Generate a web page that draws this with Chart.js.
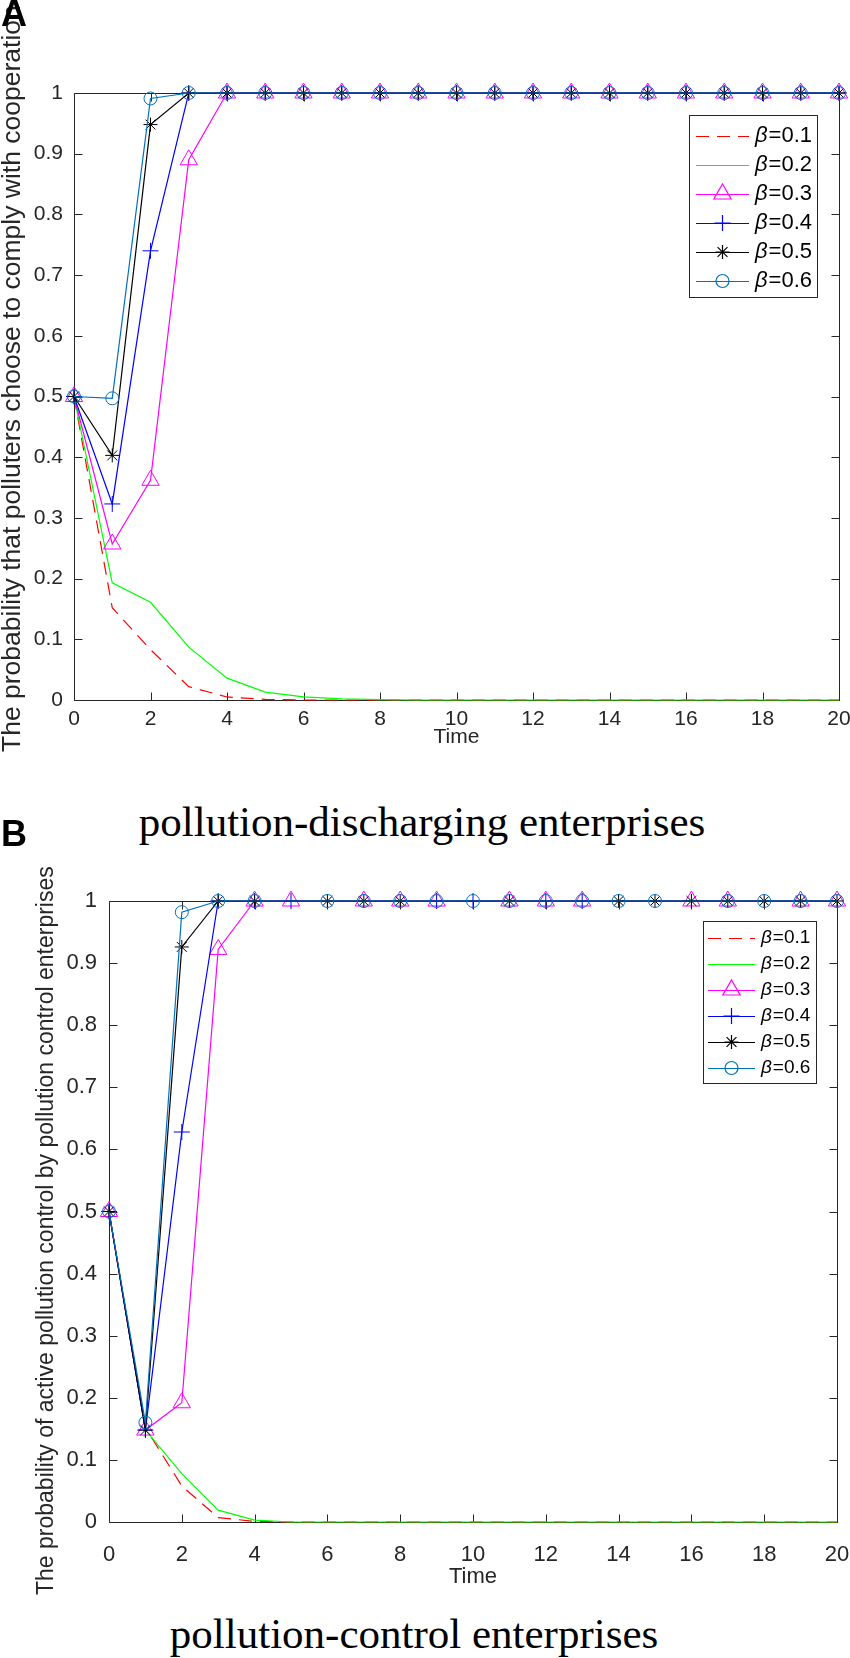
<!DOCTYPE html>
<html>
<head>
<meta charset="utf-8">
<script src="https://cdn.jsdelivr.net/npm/chart.js@4.4.1/dist/chart.umd.min.js"></script>
<style>
  body { margin: 0; background: #fff; width: 850px; height: 1658px; position: relative; overflow: hidden; }
  canvas { position: absolute; left: 0; }
  .lab { position: absolute; left: 1px; font: bold 36px "Liberation Sans", Arial, sans-serif; color: #000; line-height: 36px; }
  .ttl { position: absolute; transform: translateX(-50%); font: 43px/43px "Liberation Serif", "Times New Roman", serif; color: #000; white-space: nowrap; }
</style>
</head>
<body>
<canvas id="chartA" width="850" height="770" style="top:0"></canvas>
<canvas id="chartB" width="850" height="755" style="top:845px"></canvas>
<div class="lab" style="top:-4px">A</div>
<div class="lab" style="top:816px">B</div>
<div class="ttl" style="top:800px;left:422px">pollution-discharging enterprises</div>
<div class="ttl" style="top:1612px;left:414px">pollution-control enterprises</div>
<script>
// time steps and tick labels
var times = [0,1,2,3,4,5,6,7,8,9,10,11,12,13,14,15,16,17,18,19,20];
var xTickVals = [0,2,4,6,8,10,12,14,16,18,20];
var xTickLabels = ['0','2','4','6','8','10','12','14','16','18','20'];
var yTickVals = [0,0.1,0.2,0.3,0.4,0.5,0.6,0.7,0.8,0.9,1];
var yTickLabels = ['0','0.1','0.2','0.3','0.4','0.5','0.6','0.7','0.8','0.9','1'];
var betas = ['0.1','0.2','0.3','0.4','0.5','0.6'];

// A: polluters complying with cooperation
var a01 = [0.5,0.152,0.083,0.022,0.005,0.001,0,0,0,0,0,0,0,0,0,0,0,0,0,0,0];
var a02 = [0.5,0.193,0.161,0.087,0.036,0.013,0.005,0.002,0.0005,0,0,0,0,0,0,0,0,0,0,0,0];
var a03 = [0.5,0.257,0.362,0.89,1,1,1,1,1,1,1,1,1,1,1,1,1,1,1,1,1];
var a04 = [0.5,0.323,0.74,1,1,1,1,1,1,1,1,1,1,1,1,1,1,1,1,1,1];
var a05 = [0.5,0.403,0.948,1,1,1,1,1,1,1,1,1,1,1,1,1,1,1,1,1,1];
var a06 = [0.5,0.497,0.991,1,1,1,1,1,1,1,1,1,1,1,1,1,1,1,1,1,1];

// B: active pollution control
var b01 = [0.5,0.152,0.058,0.007,0.001,0,0,0,0,0,0,0,0,0,0,0,0,0,0,0,0];
var b02 = [0.5,0.148,0.078,0.019,0.003,0,0,0,0,0,0,0,0,0,0,0,0,0,0,0,0];
var b03 = [0.5,0.148,0.192,0.922,1,1,1,1,1,1,1,1,1,1,1,1,1,1,1,1,1];
var b04 = [0.5,0.148,0.628,1,1,1,1,1,1,1,1,1,1,1,1,1,1,1,1,1,1];
var b05 = [0.5,0.148,0.926,1,1,1,1,1,1,1,1,1,1,1,1,1,1,1,1,1,1];
var b06 = [0.5,0.160,0.982,1,1,1,1,1,1,1,1,1,1,1,1,1,1,1,1,1,1];

// which markers are visible in panel B (the rest are hidden like in the original)
var triB  = [1,1,1,1,1,1,0,1,1,1,0,1,1,1,0,0,1,1,0,1,1];
var plusB = [1,1,1,1,1,1,0,0,0,1,1,0,1,1,0,0,0,0,0,0,0];
var starB = [1,1,1,1,1,0,1,1,1,0,0,1,0,0,1,1,1,1,1,1,1];
var circB = [1,1,1,1,1,0,1,1,1,1,1,1,1,1,1,1,0,1,1,1,1];

var AXIS = '#262626';
var styles = [
  { color: '#ff0000', dash: [13, 8], marker: false },
  { color: '#00ff00', dash: [], marker: false },
  { color: '#ff00ff', dash: [], marker: 'triangle', r: 10 },
  { color: '#0000ff', dash: [], marker: 'cross', r: 8 },
  { color: '#000000', dash: [], marker: 'star', r: 7 },
  { color: '#0072bd', dash: [], marker: 'circle', r: 6.5 }
];

function pts(vals) {
  return vals.map(function (v, i) { return { x: times[i], y: v }; });
}

function makeSets(series, masks) {
  return series.map(function (vals, i) {
    var s = styles[i];
    var mask = masks ? masks[i] : null;
    return {
      label: '\u03b2=' + betas[i],
      data: pts(vals),
      borderColor: s.color,
      borderWidth: 1.2,
      borderDash: s.dash,
      backgroundColor: 'rgba(0,0,0,0)',
      pointStyle: s.marker || 'circle',
      pointRadius: s.marker ? function (ctx) { return (!mask || mask[ctx.dataIndex]) ? s.r : 0; } : 0,
      pointHoverRadius: 0,
      pointBorderColor: s.color,
      pointBackgroundColor: 'rgba(0,0,0,0)',
      pointBorderWidth: 1,
      tension: 0,
      clip: false,
      order: 6 - i
    };
  });
}

// box with inward ticks, drawn under the lines
var framePlugin = {
  id: 'frame',
  beforeDatasetsDraw: function (chart) {
    var ctx = chart.ctx, a = chart.chartArea;
    var xs = chart.scales.x, ys = chart.scales.y;
    ctx.save();
    ctx.strokeStyle = AXIS;
    ctx.lineWidth = 1;
    ctx.beginPath();
    var l = Math.round(a.left) + 0.5, r = Math.round(a.right) + 0.5;
    var t = Math.round(a.top) + 0.5, b = Math.round(a.bottom) + 0.5;
    ctx.rect(l, t, r - l, b - t);
    xTickVals.forEach(function (v) {
      var px = Math.round(xs.getPixelForValue(v)) + 0.5;
      ctx.moveTo(px, b); ctx.lineTo(px, b - 8);
      ctx.moveTo(px, t); ctx.lineTo(px, t + 8);
    });
    yTickVals.forEach(function (v) {
      var py = Math.round(ys.getPixelForValue(v)) + 0.5;
      ctx.moveTo(l, py); ctx.lineTo(l + 8, py);
      ctx.moveTo(r, py); ctx.lineTo(r - 8, py);
    });
    ctx.stroke();
    ctx.restore();
  }
};

// rotated y title, may run past the canvas edge like the original
var yTitlePlugin = {
  id: 'ytitle',
  afterDraw: function (chart, args, o) {
    var ctx = chart.ctx;
    ctx.save();
    ctx.font = o.font;
    ctx.fillStyle = AXIS;
    ctx.textBaseline = 'middle';
    ctx.textAlign = 'left';
    ctx.translate(o.x, o.y);
    ctx.rotate(-Math.PI / 2);
    ctx.fillText(o.text, 0, 0);
    ctx.restore();
  }
};

// matlab style legend: line sample with marker in the middle
var legendPlugin = {
  id: 'mlegend',
  afterDraw: function (chart, args, o) {
    var ctx = chart.ctx;
    ctx.save();
    ctx.fillStyle = '#fff';
    ctx.fillRect(o.x, o.y, o.w, o.h);
    ctx.strokeStyle = AXIS;
    ctx.lineWidth = 1;
    ctx.strokeRect(o.x + 0.5, o.y + 0.5, o.w, o.h);
    chart.data.datasets.forEach(function (ds, i) {
      var s = styles[i];
      var y = o.row0 + i * o.rowH;
      ctx.strokeStyle = s.color;
      ctx.lineWidth = 1.2;
      ctx.setLineDash(s.dash);
      ctx.beginPath();
      ctx.moveTo(o.l0, y + 0.5); ctx.lineTo(o.l1, y + 0.5);
      ctx.stroke();
      ctx.setLineDash([]);
      if (s.marker) {
        ctx.fillStyle = 'rgba(0,0,0,0)';
        Chart.helpers.drawPoint(ctx, { pointStyle: s.marker, radius: s.r, rotation: 0, borderWidth: 1 }, (o.l0 + o.l1) / 2, y);
      }
      ctx.fillStyle = '#000';
      ctx.textBaseline = 'middle';
      ctx.font = 'italic ' + o.font;
      ctx.fillText('\u03b2', o.tx, y);
      var w = ctx.measureText('\u03b2').width;
      ctx.font = o.font;
      ctx.fillText('=' + betas[i], o.tx + w + 1, y);
    });
    ctx.restore();
  }
};

function makeChart(id, sets, cfg) {
  var tickFont = { family: cfg.family, size: cfg.tickSize };
  return new Chart(document.getElementById(id), {
    type: 'line',
    data: { datasets: sets },
    plugins: [framePlugin, yTitlePlugin, legendPlugin],
    options: {
      responsive: false,
      animation: false,
      events: [],
      layout: { autoPadding: false, padding: { left: 0, right: cfg.padRight, top: cfg.padTop, bottom: 0 } },
      plugins: {
        legend: { display: false },
        tooltip: { enabled: false },
        ytitle: cfg.ytitle,
        mlegend: cfg.legend
      },
      scales: {
        x: {
          type: 'linear', min: 0, max: 20,
          afterBuildTicks: function (s) { s.ticks = xTickVals.map(function (v) { return { value: v }; }); },
          afterFit: function (s) { s.height = cfg.xHeight; s.paddingLeft = 0; s.paddingRight = 0; },
          grid: { display: false, drawTicks: false }, border: { display: false },
          ticks: {
            autoSkip: false, maxRotation: 0, color: AXIS, font: tickFont, padding: cfg.xTickPad,
            callback: function (v, i) { return xTickLabels[i]; }
          },
          title: {
            display: true, text: 'Time', color: AXIS,
            font: { family: cfg.family, size: cfg.titleSize },
            padding: { top: 0, bottom: cfg.timePad }
          }
        },
        y: {
          min: 0, max: 1,
          afterBuildTicks: function (s) { s.ticks = yTickVals.map(function (v) { return { value: v }; }); },
          afterFit: function (s) { s.width = cfg.yWidth; s.paddingTop = 0; s.paddingBottom = 0; },
          grid: { display: false, drawTicks: false }, border: { display: false },
          ticks: {
            autoSkip: false, color: AXIS, font: tickFont, padding: cfg.yTickPad,
            callback: function (v, i) { return yTickLabels[i]; }
          }
        }
      }
    }
  });
}

makeChart('chartA', makeSets([a01, a02, a03, a04, a05, a06], null), {
  family: '"Liberation Sans", Arial, sans-serif',
  tickSize: 21, titleSize: 21,
  padRight: 11, padTop: 93, xHeight: 70, yWidth: 74,
  xTickPad: 7, yTickPad: 11, timePad: 20,
  ytitle: { text: 'The probability that polluters choose to comply with cooperation', font: '26.5px "Liberation Sans", Arial, sans-serif', x: 13, y: 752 },
  legend: { x: 689, y: 115, w: 128, h: 182, row0: 136, rowH: 29, l0: 696, l1: 749, tx: 755, font: '22px "Liberation Sans", Arial, sans-serif' }
});

makeChart('chartB', makeSets([b01, b02, b03, b04, b05, b06], [null, null, triB, plusB, starB, circB]), {
  family: '"Liberation Sans Narrow", "Arial Narrow", "Liberation Sans", sans-serif',
  tickSize: 22, titleSize: 22,
  padRight: 13, padTop: 56, xHeight: 78, yWidth: 109,
  xTickPad: 20, yTickPad: 12, timePad: 10,
  ytitle: { text: 'The probability of active pollution control by pollution control enterprises', font: '23px "Liberation Sans Narrow", "Arial Narrow", "Liberation Sans", sans-serif', x: 47, y: 750 },
  legend: { x: 703, y: 76, w: 113, h: 162, row0: 93, rowH: 26, l0: 708, l1: 755, tx: 761, font: '19px "Liberation Sans", Arial, sans-serif' }
});
</script>
</body>
</html>
